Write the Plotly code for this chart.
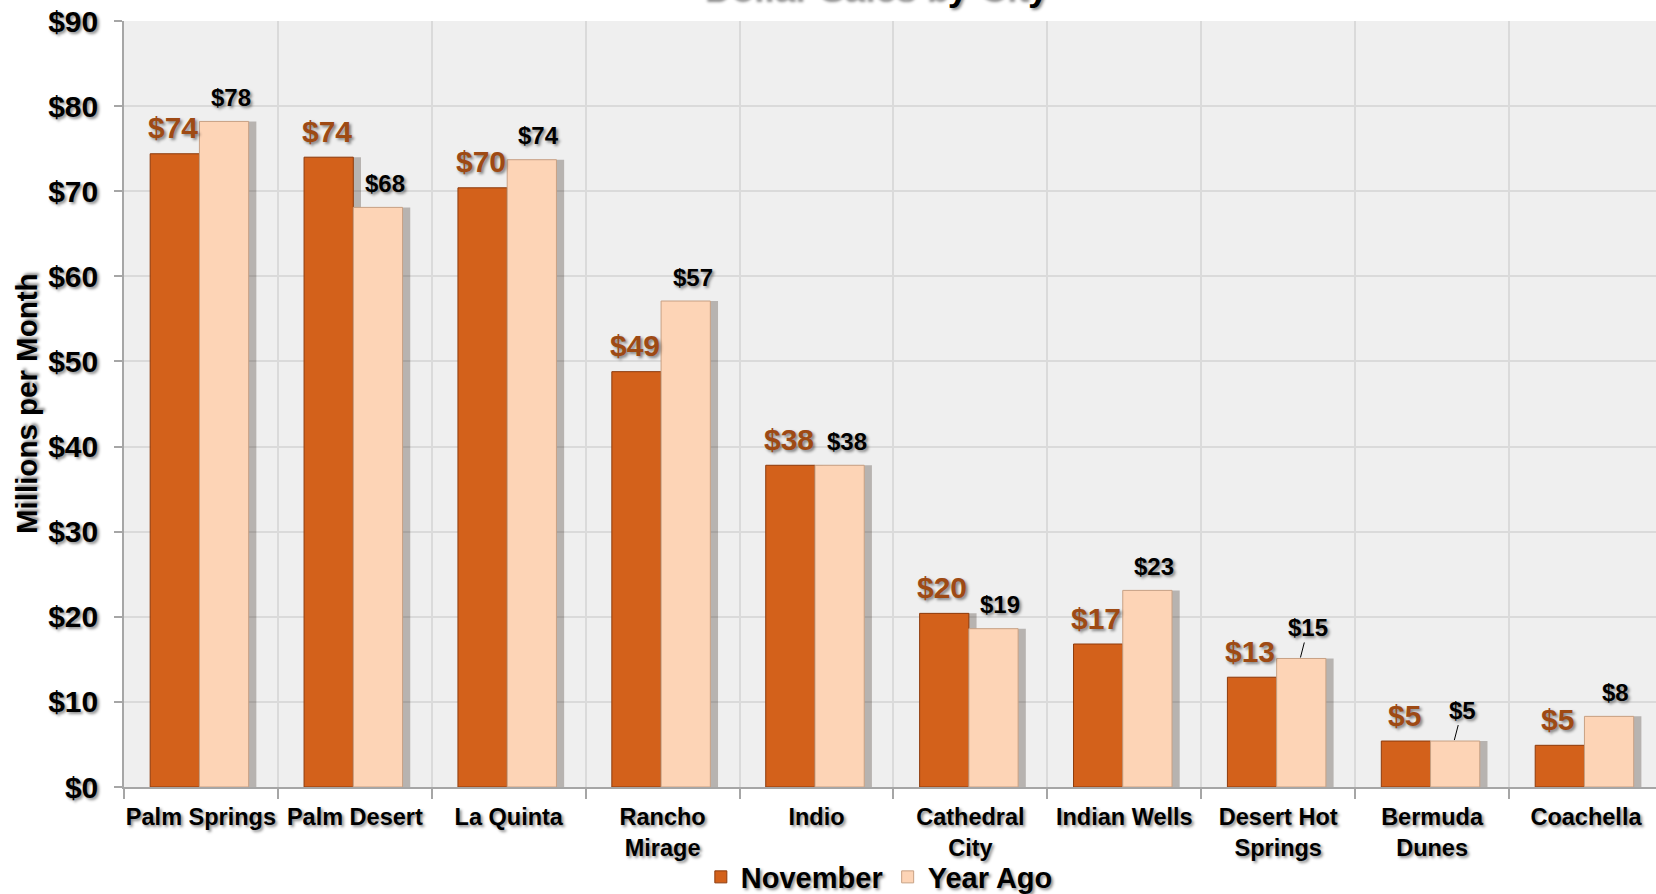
import plotly.graph_objects as go

cities = ["Palm Springs", "Palm Desert", "La Quinta", "Rancho<br>Mirage", "Indio",
          "Cathedral<br>City", "Indian Wells", "Desert Hot<br>Springs", "Bermuda<br>Dunes", "Coachella"]
november = [74.4, 74.0, 70.4, 48.8, 37.8, 20.4, 16.8, 12.9, 5.4, 4.9]
year_ago = [78.2, 68.1, 73.7, 57.1, 37.8, 18.6, 23.1, 15.1, 5.4, 8.3]
y_ticks = [0, 10, 20, 30, 40, 50, 60, 70, 80, 90]

NOV_COLOR = "#D3611B"
NOV_LINE = "#8E3B0C"
YA_COLOR = "#FDD4B6"
YA_LINE = "#C8A184"
NOV_LABEL = "#9E4A14"
FONT = "Liberation Sans"
SHADOW = "2px 2px 3px rgba(0,0,0,0.45)"

fig = go.Figure()

# soft drop shadows behind the bars (same data)
for vals, off in ((november, -0.32), (year_ago, 0.0)):
    fig.add_trace(go.Bar(
        x=cities, y=vals, offset=off, width=0.36,
        marker=dict(color="rgba(40,25,15,0.28)", line=dict(width=0)),
        showlegend=False, hoverinfo="skip"))

fig.add_trace(go.Bar(
    name="November", x=cities, y=november, offset=-0.33, width=0.32,
    marker=dict(color=NOV_COLOR, line=dict(color=NOV_LINE, width=1))))
fig.add_trace(go.Bar(
    name="Year Ago", x=cities, y=year_ago, offset=-0.01, width=0.32,
    marker=dict(color=YA_COLOR, line=dict(color=YA_LINE, width=1))))

annotations = []
for c, v in zip(cities, november):
    annotations.append(dict(
        x=c, y=v, xref="x", yref="y", text=f"${v:.0f}", showarrow=False,
        xshift=-28, yshift=26, yanchor="middle",
        font=dict(family=FONT, size=30, color=NOV_LABEL, weight="bold", shadow=SHADOW)))
for c, v in zip(cities, year_ago):
    leader = c in ("Desert Hot<br>Springs", "Bermuda<br>Dunes")
    if leader:
        annotations.append(dict(
            x=c, y=v, xref="x", yref="y", text=f"${v:.0f}", showarrow=True,
            arrowhead=0, arrowwidth=1, arrowcolor="#000000", ax=8, ay=-31,
            axref="pixel", ayref="pixel", xshift=22, standoff=1,
            font=dict(family=FONT, size=24, color="#000000", weight="bold", shadow=SHADOW)))
    else:
        annotations.append(dict(
            x=c, y=v, xref="x", yref="y", text=f"${v:.0f}", showarrow=False,
            xshift=30, yshift=24, yanchor="middle",
            font=dict(family=FONT, size=24, color="#000000", weight="bold", shadow=SHADOW)))

annotations.append(dict(
    x=0, xref="paper", xshift=-98, y=0.5, yref="paper", text="Millions per Month",
    textangle=-90, showarrow=False, xanchor="center", yanchor="middle",
    font=dict(family=FONT, size=29.5, color="#000000", weight="bold", shadow=SHADOW)))

annotations.append(dict(
    x=0.491, xref="paper", y=1, yref="paper", text="Dollar Sales by City",
    showarrow=False, xanchor="center", yanchor="bottom", yshift=11,
    font=dict(family=FONT, size=37, color="#000000", weight="bold", shadow=SHADOW)))

fig.update_layout(
    width=1656, height=894,
    margin=dict(l=124, r=0, t=21, b=107),
    paper_bgcolor="#FFFFFF", plot_bgcolor="#EFEFEF",
    barmode="overlay",
    annotations=annotations,
    legend=dict(orientation="h", xref="container", x=0.531, xanchor="center",
                yref="container", y=0.019, yanchor="middle",
                font=dict(family=FONT, size=29, color="#000000", weight="bold", shadow=SHADOW),
                itemwidth=30, traceorder="normal", bgcolor="rgba(0,0,0,0)"),
    font=dict(family=FONT, color="#000000"),
)
fig.update_xaxes(
    type="category", range=[-0.5, 9.455], tickson="boundaries", tickangle=0,
    automargin=False,
    showgrid=True, gridcolor="#DADADA", gridwidth=1.5,
    showline=True, linecolor="#A6A6A6", linewidth=1.5,
    ticks="outside", ticklen=10, tickcolor="#A6A6A6", tickwidth=1.5,
    ticklabelstandoff=8,
    tickfont=dict(family=FONT, size=23.5, color="#000000", weight="bold", shadow=SHADOW),
    fixedrange=True)
fig.update_yaxes(
    range=[0, 90], tickvals=y_ticks, ticktext=[f"${t}" for t in y_ticks],
    automargin=False,
    showgrid=True, gridcolor="#DADADA", gridwidth=1.5, zeroline=False,
    showline=True, linecolor="#A6A6A6", linewidth=1.5,
    ticks="outside", ticklen=8, tickcolor="#A6A6A6", tickwidth=1.5,
    ticklabelstandoff=10,
    tickfont=dict(family=FONT, size=30, color="#000000", weight="bold", shadow=SHADOW),
    fixedrange=True)

fig.write_html("out.html", config={"displayModeBar": False},
               post_script="document.body.style.margin='0';document.body.style.overflow='hidden';")
